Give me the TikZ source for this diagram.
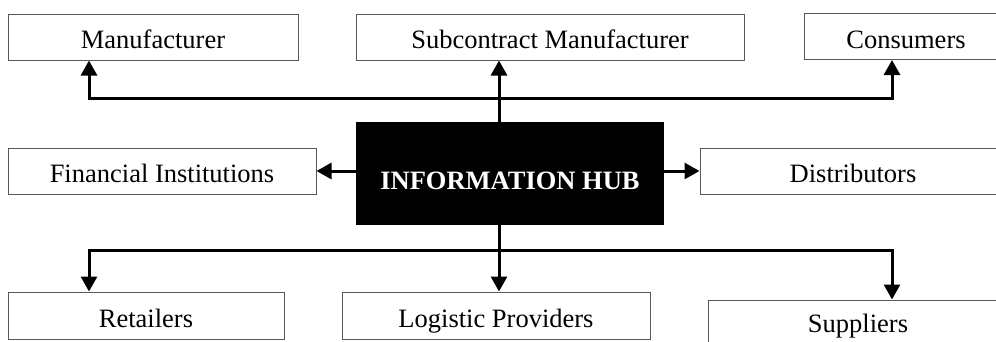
\documentclass[tikz,border=0pt]{standalone}
\usepackage{fontspec}
\setmainfont{Liberation Serif}
\usetikzlibrary{arrows.meta}

\begin{document}
\begin{tikzpicture}[x=1pt, y=-1pt,
    party/.style={draw=black!65, line width=1pt, inner sep=0pt, minimum height=46pt,
      text height=23.5pt, text depth=0pt, font=\fontsize{26.5}{30}\selectfont},
    feed/.style={line width=3pt, -{Triangle[width=16pt, length=15pt]}}]
      \clip (0, 0) rectangle (996, 341);

      \node[party, minimum width=290pt] (man) at (153, 37) {Manufacturer};
      \node[party, minimum width=388pt] (sub) at (550, 37) {Subcontract Manufacturer};
      \node[party, minimum width=204pt] (con) at (906, 36.5) {Consumers};
      \node[party, minimum width=308pt] (fin) at (162, 171) {Financial Institutions};
      \node[party, minimum width=306pt] (dis) at (853, 171) {Distributors};
      \node[party, minimum width=276pt, minimum height=47pt] (ret) at (146, 315.5) {Retailers};
      \node[party, minimum width=308pt, minimum height=47pt] (log) at (496, 315.5) {Logistic Providers};
      \node[party, minimum width=300pt, text height=18pt] (sup) at (858, 323) {Suppliers};

      \node[fill=black, text=white, inner sep=0pt, minimum width=308pt, minimum height=103pt,
        text height=32pt, text depth=0pt,
        font=\fontsize{26.5}{30}\selectfont\bfseries] (hub) at (510, 173.5) {INFORMATION HUB};

      % buses above and below the hub
      \coordinate (up) at (499, 98);
      \coordinate (down) at (499, 250);

      \draw[feed] (hub.north -| up) -- (sub.south -| up);
      \draw[feed] (hub.south -| down) -- (log.north -| down);
      \foreach \x/\n in {89/man, 892/con}
        \draw[feed] (up) -| (\x, 0 |- \n.south);
      \foreach \x/\n in {89/ret, 892/sup}
        \draw[feed] (down) -| (\x, 0 |- \n.north);

      \draw[feed] (hub.west |- fin.east) -- (fin.east);
      \draw[feed] (hub.east |- dis.west) -- (dis.west);
    \end{tikzpicture}
\end{document}
